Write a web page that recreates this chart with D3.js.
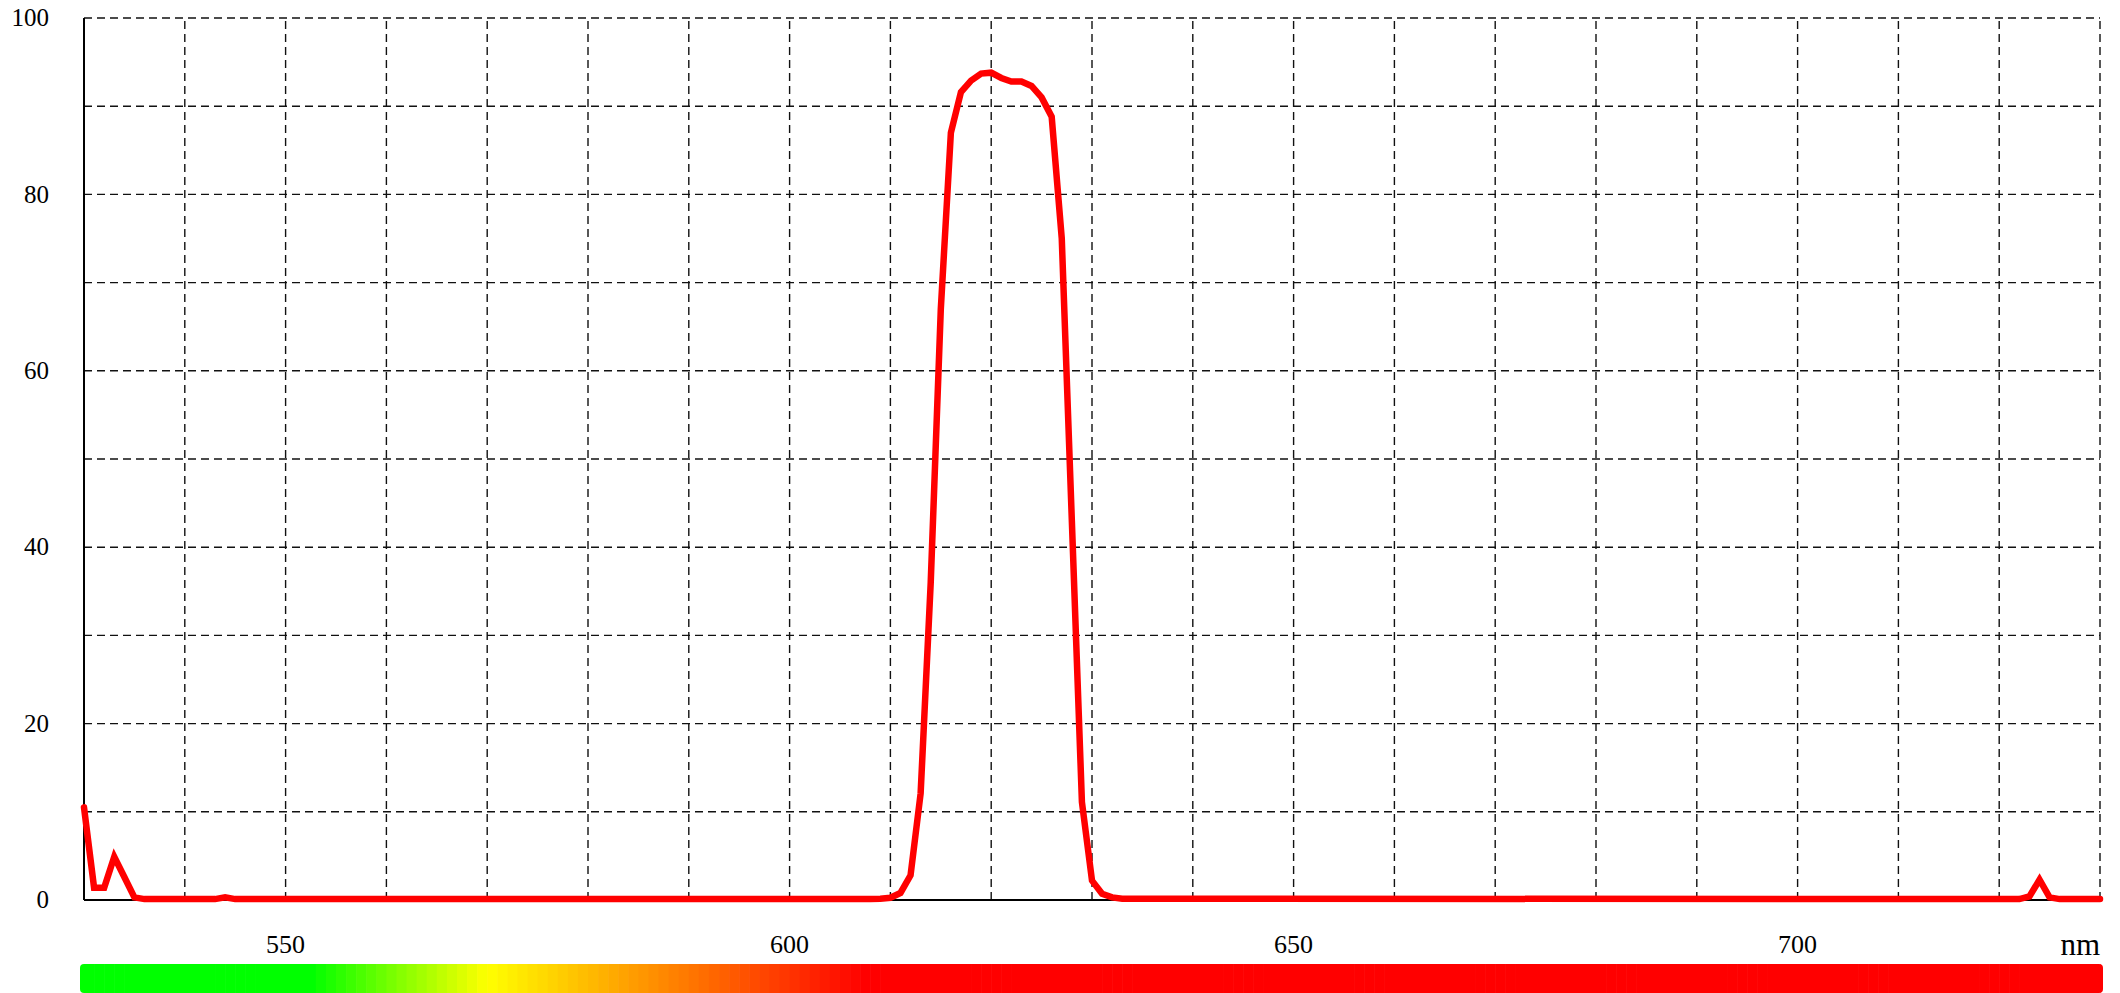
<!DOCTYPE html>
<html>
<head>
<meta charset="utf-8">
<script src="https://cdn.jsdelivr.net/npm/d3@7"></script>
<style>
  html, body { margin: 0; padding: 0; background: #fff; }
  svg text { font-family: "Liberation Serif", "DejaVu Serif", serif; fill: #000; }
</style>
</head>
<body>
<div class="chart"></div>
<script>
// transmission curve (nm, %)
const wavelengths = [530, 531, 532, 533, 534, 535, 536, 543, 544, 545,
  608, 609, 610, 611, 612, 613, 614, 615, 616, 617, 618, 619, 620, 621, 622,
  623, 624, 625, 626, 627, 628, 629, 630, 631, 632, 633, 722, 723, 724, 725, 726, 730];
const transmission = [10.5, 1.4, 1.4, 4.9, 2.6, 0.3, 0.1, 0.1, 0.3, 0.1,
  0.1, 0.15, 0.25, 0.8, 2.8, 12.1, 36, 67, 87, 91.6, 92.9, 93.7, 93.8, 93.2, 92.8,
  92.8, 92.3, 91, 88.8, 75, 43, 11.1, 2.2, 0.7, 0.3, 0.15, 0.1, 0.4, 2.3, 0.3, 0.1, 0.1];

const xTicks = [550, 600, 650, 700];
const yTicks = [0, 20, 40, 60, 80, 100];
const xGrid = [540, 550, 560, 570, 580, 590, 600, 610, 620, 630, 640, 650, 660, 670, 680, 690, 700, 710, 720, 730];
const yGrid = [10, 20, 30, 40, 50, 60, 70, 80, 90, 100];

// colour bar stops (nm -> colour)
const barStops = [552.5, 561, 570, 585, 597, 607.5];
const barColours = ['#00ff00', '#80ff00', '#ffff00', '#ff9900', '#ff4800', '#ff0000'];

const width = 2120, height = 993;
const margin = { top: 18, right: 20, bottom: 93, left: 84 };

const svg = d3.select('.chart').append('svg')
  .attr('width', width)
  .attr('height', height);

const x = d3.scaleLinear()
  .domain([530, 730])
  .range([margin.left, width - margin.right]);

const y = d3.scaleLinear()
  .domain([0, 100])
  .range([height - margin.bottom, margin.top]);

// grid
svg.append('g').attr('class', 'grid')
  .selectAll('line.v')
  .data(xGrid)
  .enter().append('line')
  .attr('x1', d => x(d)).attr('x2', d => x(d))
  .attr('y1', y(0)).attr('y2', y(100))
  .attr('stroke', '#111')
  .attr('stroke-width', 1.4)
  .attr('stroke-dasharray', '8,5');

svg.append('g').attr('class', 'grid')
  .selectAll('line.h')
  .data(yGrid)
  .enter().append('line')
  .attr('x1', x(530)).attr('x2', x(730))
  .attr('y1', d => y(d)).attr('y2', d => y(d))
  .attr('stroke', '#111')
  .attr('stroke-width', 1.4)
  .attr('stroke-dasharray', '8,5');

// axes lines
svg.append('line')
  .attr('x1', x(530)).attr('x2', x(530))
  .attr('y1', y(100)).attr('y2', y(0))
  .attr('stroke', '#000').attr('stroke-width', 2);
svg.append('line')
  .attr('x1', x(530)).attr('x2', x(730))
  .attr('y1', y(0)).attr('y2', y(0))
  .attr('stroke', '#000').attr('stroke-width', 2);

// y labels
svg.selectAll('text.ylab')
  .data(yTicks)
  .enter().append('text')
  .attr('class', 'ylab')
  .attr('x', 49)
  .attr('y', d => y(d))
  .attr('dy', '0.33em')
  .style('text-anchor', 'end')
  .style('font-size', '25px')
  .text(d => d);

// x labels
svg.selectAll('text.xlab')
  .data(xTicks)
  .enter().append('text')
  .attr('class', 'xlab')
  .attr('x', d => x(d))
  .attr('y', 953)
  .style('text-anchor', 'middle')
  .style('font-size', '26px')
  .text(d => d);

svg.append('text')
  .attr('x', x(730))
  .attr('y', 955)
  .style('text-anchor', 'end')
  .style('font-size', '31px')
  .text('nm');

// curve
const points = wavelengths.map((w, i) => [w, transmission[i]]);
const line = d3.line()
  .x(d => x(d[0]))
  .y(d => y(d[1]));

svg.append('path')
  .datum(points)
  .attr('d', line)
  .attr('fill', 'none')
  .attr('stroke', '#ff0000')
  .attr('stroke-width', 6.5)
  .attr('stroke-linecap', 'round')
  .attr('stroke-linejoin', 'miter');

// colour bar
const colour = d3.scaleLinear()
  .domain(barStops)
  .range(barColours)
  .clamp(true);

const barX0 = x(530) - 4, barX1 = x(730) + 3;
const barY = 964, barH = 29;

const defs = svg.append('defs');
defs.append('clipPath').attr('id', 'barClip')
  .append('rect')
  .attr('x', barX0).attr('y', barY)
  .attr('width', barX1 - barX0).attr('height', barH)
  .attr('rx', 4).attr('ry', 4);

svg.append('g')
  .attr('clip-path', 'url(#barClip)')
  .selectAll('rect')
  .data(d3.range(529, 731))
  .enter().append('rect')
  .attr('x', d => x(d))
  .attr('y', barY)
  .attr('width', x(531) - x(530) + 0.6)
  .attr('height', barH)
  .attr('fill', d => colour(d + 0.5));
</script>
</body>
</html>
